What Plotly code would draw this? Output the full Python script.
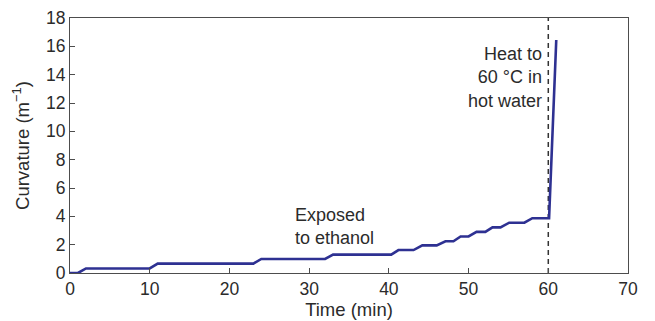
import plotly.graph_objects as go

time_min = [0, 1, 2, 10, 11, 23, 24, 32, 33, 40.3, 41.2, 43.1, 44.2, 46, 47.1, 48.1, 49,
            50, 51, 52.1, 53, 54, 55.1, 57, 58, 60.1, 61]
curvature = [0, 0, 0.32, 0.32, 0.66, 0.66, 0.99, 0.99, 1.3, 1.3, 1.62, 1.62, 1.95, 1.95,
             2.24, 2.24, 2.58, 2.58, 2.9, 2.9, 3.22, 3.22, 3.55, 3.55, 3.87, 3.87, 16.45]

heat_time = [60, 60]
heat_span = [0, 18]

x_ticks = [0, 10, 20, 30, 40, 50, 60, 70]
y_ticks = [0, 2, 4, 6, 8, 10, 12, 14, 16, 18]

FONT = "Arial, Liberation Sans, sans-serif"
TXT = "#2b2b2b"
AX = "#4d4d4d"

fig = go.Figure()
fig.add_trace(go.Scatter(x=heat_time, y=heat_span, mode="lines",
                         line=dict(color="#333333", width=1.5, dash="5px,4px"),
                         hoverinfo="skip", showlegend=False))
fig.add_trace(go.Scatter(x=time_min, y=curvature, mode="lines",
                         line=dict(color="#2e3192", width=2.6), showlegend=False))

fig.add_annotation(x=28.0, y=3.25, xref="x", yref="y", text="Exposed<br>to ethanol",
                   showarrow=False, xanchor="left", yanchor="middle", align="left",
                   font=dict(family=FONT, size=18, color=TXT))
fig.add_annotation(x=59.4, y=13.8, xref="x", yref="y", text="Heat to<br>60 °C in<br>hot water",
                   showarrow=False, xanchor="right", yanchor="middle", align="right",
                   font=dict(family=FONT, size=18, color=TXT))

fig.update_xaxes(range=[0, 70], tickvals=x_ticks, ticks="inside", ticklen=5, tickcolor=AX,
                 showline=True, linecolor=AX, linewidth=1.2, mirror=True, showgrid=False,
                 zeroline=False, automargin=False, tickfont=dict(family=FONT, size=17.5, color=TXT),
                 title=dict(text="Time (min)", font=dict(family=FONT, size=18.5, color=TXT), standoff=3))
fig.update_yaxes(range=[0, 18], tickvals=y_ticks, ticks="inside", ticklen=5, tickcolor=AX,
                 showline=True, linecolor=AX, linewidth=1.2, mirror=True, showgrid=False,
                 zeroline=False, automargin=False, tickfont=dict(family=FONT, size=17.5, color=TXT),
                 title=dict(text="Curvature (m<sup>−1</sup>)", font=dict(family=FONT, size=18.5, color=TXT), standoff=11))

fig.update_layout(width=655, height=321, margin=dict(l=70, r=27, t=18, b=48, autoexpand=False),
                  plot_bgcolor="white", paper_bgcolor="white")
fig.write_html("out.html")
